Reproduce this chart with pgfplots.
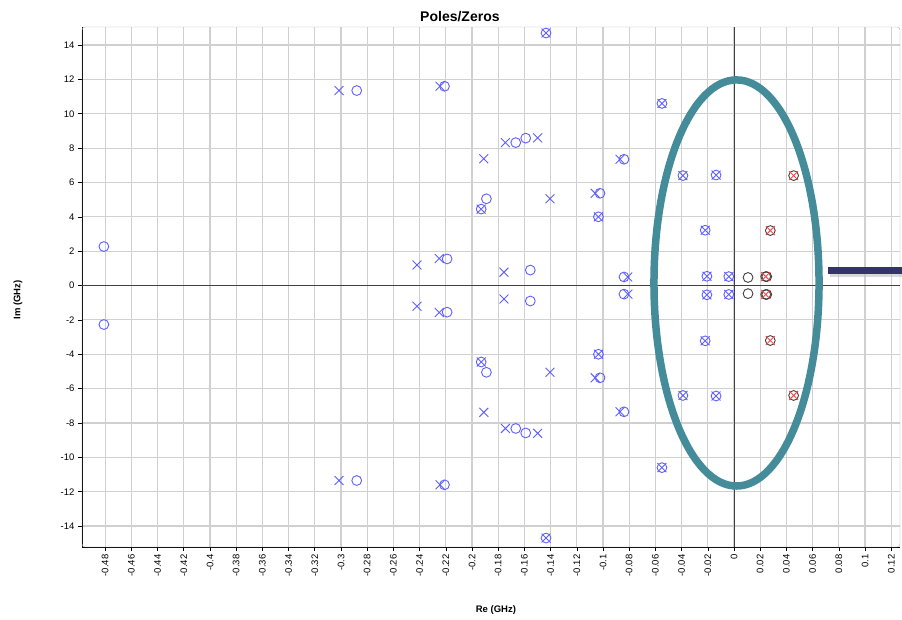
\documentclass[border=0pt]{standalone}
\usepackage{pgfplots}
\pgfplotsset{compat=1.18}
\usepackage{fontspec}
\setmainfont{Liberation Sans}
\definecolor{mblue}{RGB}{95,95,255}
\definecolor{mred}{RGB}{255,70,70}
\definecolor{mteal}{RGB}{68,140,153}
\definecolor{mnavy}{RGB}{52,52,108}
\definecolor{gridc}{RGB}{208,208,208}
\begin{document}
\begin{tikzpicture}
\begin{axis}[
  name=ax, scale only axis, width=818pt, height=520pt,
  xmin=-0.4977, xmax=0.1267, ymin=-15.22, ymax=15.05,
  axis x line*=bottom, axis y line*=left,
  axis line style={-, black, line width=0.8pt},
  xtick={-0.48,-0.46,-0.44,-0.42,-0.4,-0.38,-0.36,-0.34,-0.32,-0.3,-0.28,-0.26,-0.24,-0.22,-0.2,-0.18,-0.16,-0.14,-0.12,-0.1,-0.08,-0.06,-0.04,-0.02,0,0.02,0.04,0.06,0.08,0.1,0.12},
  ytick={-14,-12,-10,-8,-6,-4,-2,0,2,4,6,8,10,12,14},
  scaled x ticks=false, scaled y ticks=false,
  /pgf/number format/assume math mode=true,
  xticklabel={\pgfmathprintnumber[fixed,precision=2]{\tick}},
  yticklabel={\pgfmathprintnumber[fixed,precision=0]{\tick}},
  tick label style={font=\fontsize{9.5}{11}\selectfont},
  xticklabel style={rotate=90, anchor=east},
  tick align=outside, major tick length=4pt, tick style={black, line width=0.6pt},
  grid=major, grid style={gridc, line width=1.1pt},
  clip=false,
]
\coordinate (sw) at (rel axis cs:0,0);
\coordinate (ne) at (rel axis cs:1,1);
\draw[black!30, rounded corners=3pt] (rel axis cs:0,0) rectangle (rel axis cs:1,1);
\draw[black!75, line width=0.8pt] (axis cs:0,-15.22) -- (axis cs:0,15.05);
\draw[black!75, line width=0.8pt] (axis cs:-0.4977,0) -- (axis cs:0.1267,0);

% zeros (blue circles)
\addplot[only marks, mark=o, mark size=4.9pt, mblue, mark options={line width=0.9pt}] coordinates {
(-0.481,2.27) (-0.481,-2.27)
(-0.288,11.35) (-0.288,-11.35)
(-0.221,11.6) (-0.221,-11.6)
(-0.1435,14.7) (-0.1435,-14.7)
(-0.1666,8.32) (-0.1666,-8.32)
(-0.159,8.58) (-0.159,-8.58)
(-0.193,4.45) (-0.193,-4.45)
(-0.189,5.05) (-0.189,-5.05)
(-0.1023,5.37) (-0.1023,-5.37)
(-0.1035,4.0) (-0.1035,-4.0)
(-0.084,7.35) (-0.084,-7.35)
(-0.219,1.55) (-0.219,-1.55)
(-0.1555,0.9) (-0.1555,-0.9)
(-0.084,0.5) (-0.084,-0.5)
(-0.055,10.6) (-0.055,-10.6)
(-0.039,6.4) (-0.039,-6.4)
(-0.0137,6.43) (-0.0137,-6.43)
(-0.022,3.22) (-0.022,-3.22)
(-0.0207,0.54) (-0.0207,-0.54)
(-0.004,0.52) (-0.004,-0.52)
};
% poles (blue crosses)
\addplot[only marks, mark=x, mark size=6.3pt, mblue, mark options={line width=0.9pt}] coordinates {
(-0.3015,11.35) (-0.3015,-11.35)
(-0.2244,11.6) (-0.2244,-11.6)
(-0.1435,14.7) (-0.1435,-14.7)
(-0.1745,8.32) (-0.1745,-8.32)
(-0.1499,8.6) (-0.1499,-8.6)
(-0.191,7.38) (-0.191,-7.38)
(-0.087,7.35) (-0.087,-7.35)
(-0.1405,5.05) (-0.1405,-5.05)
(-0.193,4.45) (-0.193,-4.45)
(-0.106,5.37) (-0.106,-5.37)
(-0.1035,4.0) (-0.1035,-4.0)
(-0.242,1.2) (-0.242,-1.2)
(-0.225,1.57) (-0.225,-1.57)
(-0.1756,0.78) (-0.1756,-0.78)
(-0.0811,0.5) (-0.0811,-0.5)
(-0.055,10.6) (-0.055,-10.6)
(-0.039,6.4) (-0.039,-6.4)
(-0.0137,6.43) (-0.0137,-6.43)
(-0.022,3.22) (-0.022,-3.22)
(-0.0207,0.54) (-0.0207,-0.54)
(-0.004,0.52) (-0.004,-0.52)
};
% right half-plane zeros (black circles)
\addplot[only marks, mark=o, mark size=4.9pt, black!75, mark options={line width=0.9pt}] coordinates {
(0.0107,0.47) (0.0107,-0.47)
(0.0242,0.52) (0.0242,-0.52)
(0.0250,0.52) (0.0250,-0.52)
(0.0277,3.2) (0.0277,-3.2)
(0.0455,6.4) (0.0455,-6.4)
};
% right half-plane poles (red crosses)
\addplot[only marks, mark=x, mark size=6.3pt, mred, mark options={line width=0.9pt}] coordinates {
(0.0242,0.52) (0.0242,-0.52)
(0.0277,3.2) (0.0277,-3.2)
(0.0455,6.4) (0.0455,-6.4)
};

\draw[mteal, line width=7.5pt] (axis cs:0.0019,0.15) ellipse [x radius=0.063, y radius=11.82];
\fill[black!25, opacity=0.6] (axis cs:0.0733,0.5) rectangle (axis cs:0.135,0.92);
\fill[mnavy] (axis cs:0.0718,0.66) rectangle (axis cs:0.135,1.09);

\node[font=\bfseries\fontsize{14}{16}\selectfont] at ([yshift=10pt]rel axis cs:0.462,1) {Poles/Zeros};
\node[font=\bfseries\fontsize{9.5}{11}\selectfont] at ([yshift=-63pt]rel axis cs:0.506,0) {Re (GHz)};
\node[font=\bfseries\fontsize{9.5}{11}\selectfont, rotate=90] at ([xshift=-64pt]rel axis cs:0,0.475) {Im (GHz)};
\end{axis}
\pgfresetboundingbox
\path[use as bounding box] ([xshift=-82pt,yshift=-72pt]sw) rectangle ([xshift=2pt,yshift=27pt]ne);
\end{tikzpicture}
\end{document}
